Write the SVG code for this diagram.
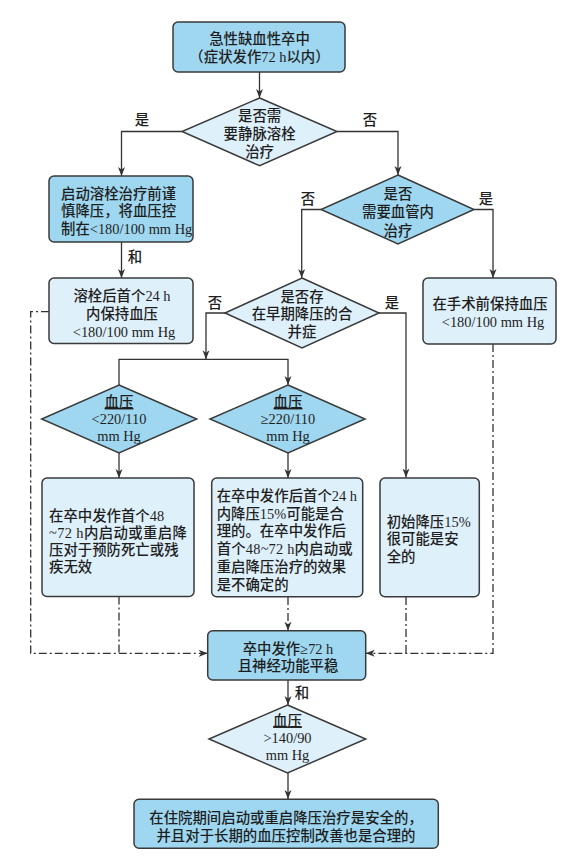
<svg xmlns="http://www.w3.org/2000/svg" width="571" height="866" viewBox="0 0 571 866">
<defs>
<style>
text{font-family:"Liberation Serif","Noto Sans CJK SC",serif;font-size:14.4px;font-weight:500;fill:#1e1e1e;}
.c{text-anchor:middle;}
.dark{fill:#9fd7f0;stroke:#3a3a3a;stroke-width:1.5;}
.light{fill:#def0fa;stroke:#3a3a3a;stroke-width:1.5;}
.ln{fill:none;stroke:#333;stroke-width:1.3;}
.dd{fill:none;stroke:#333;stroke-width:1.3;stroke-dasharray:8 3 2 3;}
.u{text-decoration:underline;}
</style>
<marker id="ah" markerUnits="userSpaceOnUse" markerWidth="10" markerHeight="8" refX="9" refY="3.5" orient="auto">
<path d="M0,0 L9,3.5 L0,7 L2.5,3.5 Z" fill="#333"/>
</marker>
</defs>
<rect width="571" height="866" fill="#ffffff"/>

<g id="connectors">
<line class="ln" x1="259.5" y1="72" x2="259.5" y2="98" marker-end="url(#ah)"/>
<polyline class="ln" points="182,131.5 121.5,131.5 121.5,176" marker-end="url(#ah)"/>
<polyline class="ln" points="337,131.5 398,131.5 398,175" marker-end="url(#ah)"/>
<line class="ln" x1="121.5" y1="242" x2="121.5" y2="278" marker-end="url(#ah)"/>
<polyline class="ln" points="321,209.5 301.7,209.5 301.7,278" marker-end="url(#ah)"/>
<polyline class="ln" points="474,209.5 493,209.5 493,278" marker-end="url(#ah)"/>
<polyline class="ln" points="225,313 206,313 206,359.3" marker-end="url(#ah)"/>
<polyline class="ln" points="119,385 119,359.3 288,359.3 288,385" marker-end="url(#ah)"/>
<polyline class="ln" points="379,313 406,313 406,477.5" marker-end="url(#ah)"/>
<line class="ln" x1="119" y1="453" x2="119" y2="478" marker-end="url(#ah)"/>
<line class="ln" x1="288" y1="453" x2="288" y2="478" marker-end="url(#ah)"/>
<line class="ln" x1="288" y1="680" x2="288" y2="705" marker-end="url(#ah)"/>
<line class="ln" x1="288" y1="773" x2="288" y2="799" marker-end="url(#ah)"/>
<polyline class="dd" points="49,311.7 30.7,311.7 30.7,653.3 207.7,653.3" marker-end="url(#ah)"/>
<line class="dd" x1="119" y1="596.5" x2="119" y2="653.3"/>
<line class="dd" x1="288" y1="597" x2="288" y2="630.7" marker-end="url(#ah)"/>
<polyline class="dd" points="493,344 493,653.3 365.7,653.3" marker-end="url(#ah)"/>
<line class="dd" x1="406" y1="597" x2="406" y2="653.3"/>
<text x="142" y="124.5" class="c">是</text>
<text x="370" y="124.5" class="c">否</text>
<text x="308" y="203.5" class="c">否</text>
<text x="486" y="203.5" class="c">是</text>
<text x="215" y="307.5" class="c">否</text>
<text x="392" y="307.5" class="c">是</text>
<text x="135" y="261.5" class="c">和</text>
<text x="302" y="697.5" class="c">和</text>
</g>

<g id="n-start">
<rect class="dark" x="173" y="22" width="172" height="50" rx="5"/>
<text x="259.5" y="43.5" class="c">急性缺血性卒中</text>
<text x="259.5" y="61.5" class="c">（症状发作72 h以内）</text>
</g>

<g id="n-q-thrombolysis">
<polygon class="light" points="259.6,98 337,131.5 259.6,165.7 182,131.5"/>
<text x="259.6" y="120.5" class="c">是否需</text>
<text x="259.6" y="139" class="c">要静脉溶栓</text>
<text x="259.6" y="157" class="c">治疗</text>
</g>

<g id="n-pre-thrombolysis">
<rect class="dark" x="49" y="176" width="144" height="66" rx="5"/>
<text x="61" y="198.5">启动溶栓治疗前谨</text>
<text x="61" y="216">慎降压，将血压控</text>
<text x="61" y="233.5">制在&lt;180/100 mm Hg</text>
</g>

<g id="n-post-thrombolysis">
<rect class="light" x="49" y="278" width="144" height="65.5" rx="5"/>
<text x="122" y="300.5" class="c">溶栓后首个24 h</text>
<text x="122" y="318.5" class="c">内保持血压</text>
<text x="124" y="337" class="c">&lt;180/100 mm Hg</text>
</g>

<g id="n-q-endovascular">
<polygon class="dark" points="398,175 474,209.5 398,244 321,209.5"/>
<text x="398" y="198.5" class="c">是否</text>
<text x="398" y="217" class="c">需要血管内</text>
<text x="398" y="235.5" class="c">治疗</text>
</g>

<g id="n-pre-surgery">
<rect class="light" x="423" y="278" width="133" height="66" rx="5"/>
<text x="490" y="308.5" class="c">在手术前保持血压</text>
<text x="493" y="327" class="c">&lt;180/100 mm Hg</text>
</g>

<g id="n-q-comorbid">
<polygon class="light" points="302,278 379,313 302,348 225,313"/>
<text x="302" y="302" class="c">是否存</text>
<text x="302" y="319" class="c">在早期降压的合</text>
<text x="302" y="337" class="c">并症</text>
</g>

<g id="n-bp-low">
<polygon class="dark" points="119,385 196.7,419 119,453 41.7,419"/>
<text x="119" y="407" class="c u">血压</text>
<text x="119" y="424" class="c">&lt;220/110</text>
<text x="119" y="440.5" class="c">mm Hg</text>
</g>

<g id="n-bp-high">
<polygon class="dark" points="288,385 365,419 288,453 210,419"/>
<text x="288" y="407" class="c u">血压</text>
<text x="288" y="424" class="c">≥220/110</text>
<text x="288" y="440.5" class="c">mm Hg</text>
</g>

<g id="n-box-left">
<rect class="light" x="42" y="478" width="152" height="118.5" rx="5"/>
<text x="49" y="520.5">在卒中发作首个48</text>
<text x="49" y="537.5" textLength="138" lengthAdjust="spacing">~72 h内启动或重启降</text>
<text x="49" y="555">压对于预防死亡或残</text>
<text x="49" y="572">疾无效</text>
</g>

<g id="n-box-mid">
<rect class="light" x="211.7" y="478" width="151" height="118.7" rx="5"/>
<text x="216.7" y="501">在卒中发作后首个24 h</text>
<text x="216.7" y="518.7">内降压15%可能是合</text>
<text x="216.7" y="536.4">理的。在卒中发作后</text>
<text x="216.7" y="554.1" textLength="136" lengthAdjust="spacing">首个48~72 h内启动或</text>
<text x="216.7" y="571.8">重启降压治疗的效果</text>
<text x="216.7" y="589.5">是不确定的</text>
</g>

<g id="n-box-right">
<rect class="light" x="380" y="478" width="99.3" height="118.7" rx="5"/>
<text x="386.7" y="526.5">初始降压15%</text>
<text x="386.7" y="544">很可能是安</text>
<text x="386.7" y="561.5">全的</text>
</g>

<g id="n-stable">
<rect class="dark" x="207.7" y="630.7" width="158" height="49.3" rx="5"/>
<text x="288" y="653.5" class="c">卒中发作≥72 h</text>
<text x="288" y="671" class="c">且神经功能平稳</text>
</g>

<g id="n-bp-140">
<polygon class="light" points="287.5,705 365.7,739 287.5,773 209,739"/>
<text x="287.5" y="725.5" class="c u">血压</text>
<text x="287.5" y="743" class="c">&gt;140/90</text>
<text x="287.5" y="759.5" class="c">mm Hg</text>
</g>

<g id="n-final">
<rect class="dark" x="134" y="799.3" width="304.3" height="49" rx="5"/>
<text x="286" y="822.8" class="c">在住院期间启动或重启降压治疗是安全的，</text>
<text x="286" y="840.5" class="c">并且对于长期的血压控制改善也是合理的</text>
</g>
</svg>
